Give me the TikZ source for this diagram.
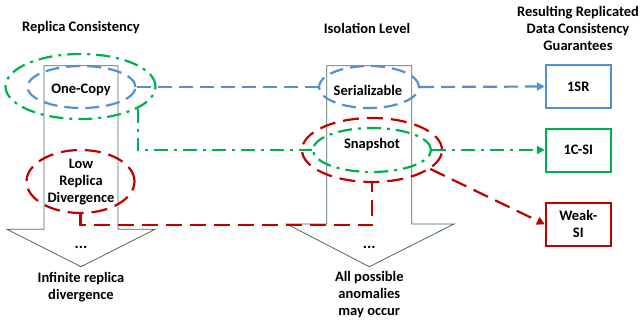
\documentclass[tikz,border=0pt]{standalone}
\usepackage{fontspec}
\setmainfont{Carlito}
\usetikzlibrary{positioning, shapes.geometric, arrows.meta}
\definecolor{cazul}{RGB}{85,142,213}
\definecolor{cverde}{RGB}{0,176,80}
\definecolor{crojo}{RGB}{192,0,0}
\definecolor{cflecha}{RGB}{70,110,80}

\begin{document}
\begin{tikzpicture}[x=1pt, y=-1pt, font=\bfseries\fontsize{14.5}{17}\selectfont,
    >={Triangle[length=8pt, width=8pt]},
    flecha/.style={draw=cflecha, line width=0.8pt, fill=white},
    elip/.style={ellipse, inner sep=0pt},
    azul/.style={draw=cazul, line width=2.2pt, dash pattern=on 14pt off 7pt},
    verde/.style={draw=cverde, line width=2.2pt, dash pattern=on 14pt off 6pt on 3pt off 6pt},
    rojo/.style={draw=crojo, line width=2.2pt, dash pattern=on 16pt off 8pt},
    caja/.style={line width=2pt, fill=white, minimum width=65pt, minimum height=43pt, align=center}]

  \useasboundingbox (0,0) rectangle (641,324);

  % titulos
  \node (tconsist) at (81,28) {Replica Consistency};
  \node (tisol) at (367,28) {Isolation Level};
  \node[align=center] (tresult) at (578,28) {Resulting Replicated\\Data Consistency\\Guarantees};

  % flechas grandes
  \path[flecha] (44,65.7) -- (44,229.3) -- (7,229.3) -- (81,266.7) -- (155,229.3) -- (118,229.3) -- (118,65.7) -- cycle;
  \path[flecha] (326.7,65.7) -- (326.7,224) -- (286.7,224) -- (369.3,266.7) -- (454,224) -- (411.7,224) -- (411.7,65.7) -- cycle;
  \node[font=\bfseries\fontsize{16}{17}\selectfont] (dotsa) at (81,247) {...};
  \node[font=\bfseries\fontsize{16}{17}\selectfont] (dotsb) at (369.3,247) {...};
  \node[align=center] (inf) at (81,287) {Infinite replica\\divergence};
  \node[align=center] (anom) at (369.3,295) {All possible\\anomalies\\may occur};

  % elipses
  \node[elip, azul, minimum width=108pt, minimum height=42pt] (onecopy) at (81.5,87) {};
  \node[elip, verde, minimum width=150pt, minimum height=65pt] (gone) at (80.5,86.5) {};
  \node[elip, rojo, minimum width=108pt, minimum height=63pt] (lowdiv) at (80.5,181.5) {};
  \node[elip, azul, minimum width=100pt, minimum height=42pt] (serial) at (369,87) {};
  \node[elip, verde, minimum width=118pt, minimum height=44pt] (gsnap) at (372,150) {};
  \node[elip, rojo, minimum width=140pt, minimum height=64pt] (rsnap) at (372,150) {};

  \node (lonecopy) at (81,90) {One-Copy};
  \node[align=center] (llowdiv) at (81,182) {Low\\Replica\\Divergence};
  \node (lserial) at (368,90) {Serializable};
  \node (lsnap) at (372,145) {Snapshot};

  % garantias
  \node[caja, draw=cazul] (sr) at (578.3,86.5) {1SR};
  \node[caja, draw=cverde] (csi) at (578.3,150) {1C-SI};
  \node[caja, draw=crojo] (weak) at (578.3,224.3) {Weak-\\SI};

  % conectores
  \draw[azul] (onecopy.east) -- (serial.west);
  \draw[azul, ->] (serial.east) -- (sr.west);
  \draw[verde] (gone.-21) |- (gsnap.west);
  \draw[verde, ->] (gsnap.east) -- (csi.west);
  \draw[rojo] (lowdiv.south) -- ++(0,11) -| (rsnap.south);
  \draw[rojo, ->] (rsnap.-18) -- (weak.west);
\end{tikzpicture}
\end{document}
